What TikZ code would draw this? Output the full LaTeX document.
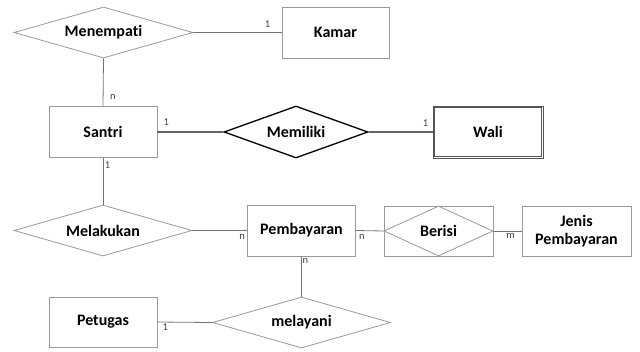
\documentclass[tikz,border=0pt]{standalone}
\usepackage{fontspec}
\setmainfont{Carlito}[Ligatures=NoCommon]
\usepackage{tikz}
\usetikzlibrary{arrows.meta, positioning, shapes.geometric, calc}

\begin{document}
\begin{tikzpicture}[
		x=1pt, y=-1pt,
		every node/.style={font=\fontsize{16}{17.5}\selectfont\bfseries},
		entity/.style={rectangle, draw=gray!80, line width=0.8pt, minimum width=108pt, minimum height=51pt, inner sep=0pt, align=center},
		weakentity/.style={entity, draw=gray!65!black, line width=1pt, minimum width=110pt, minimum height=52pt},
		relation/.style={diamond, draw=gray!80, line width=0.8pt, aspect=3.5, inner sep=0pt, minimum width=179pt, minimum height=51pt},
		strongrel/.style={relation, draw=black, line width=1.3pt, aspect=2.8},
		link/.style={draw=gray!90!black, line width=0.8pt},
		thicklink/.style={draw=gray!80!black, line width=2pt},
		card/.style={font=\fontsize{10.5}{12}\selectfont, text=black!75, inner sep=0pt}
		]
		
		\useasboundingbox (0,0) rectangle (640,351);
		
		% Entities and relations
		\node[relation] (menempati) at (103.5,32.5) {Menempati};
		\node[entity, minimum width=107pt] (kamar) at (335.5,32.5) {Kamar};
		\node[entity] (santri) at (103,132) {Santri};
		\node[strongrel, minimum width=144pt, minimum height=52pt] (memiliki) at (296,132) {Memiliki};
		\node[weakentity] (wali) at (488,132) {Wali};
		\node[weakentity, line width=0.8pt, minimum width=106.5pt, minimum height=48.5pt] (waliinner) at (wali) {};
		\node[relation, minimum width=178pt] (melakukan) at (103,230.5) {Melakukan};
		\node[entity] (pembayaran) at (301.5,230.5) {Pembayaran};
		\node[entity, minimum width=109pt, minimum height=50pt] (berisibox) at (438.5,231) {};
		\node[relation, aspect=2.2, minimum width=109pt, minimum height=50pt] (berisi) at (berisibox) {Berisi};
		\node[entity, minimum width=109pt, minimum height=50pt] (jenis) at (576.5,231) {Jenis\\Pembayaran};
		\node[entity, minimum height=50pt] (petugas) at (103,322) {Petugas};
		\node[relation, minimum width=178pt] (melayani) at (301.5,322.5) {melayani};
		
		% Connectors with cardinalities
		\draw[link] (menempati.east) -- node[card, pos=1, xshift=-14pt, yshift=8.5pt] {1} (kamar.west);
		\draw[link] (menempati.south) -- node[card, pos=1, xshift=10pt, yshift=9.5pt] {n} (santri.north);
		\draw[thicklink] (santri.east) -- node[card, pos=0, xshift=9pt, yshift=10pt] {1} (memiliki.west);
		\draw[thicklink] (memiliki.east) -- node[card, pos=1, xshift=-7pt, yshift=9pt] {1} (wali.west);
		\draw[link] (santri.south) -- node[card, pos=0, xshift=4.5pt, yshift=-7.5pt] {1} (melakukan.north);
		\draw[link] (melakukan.east) -- node[card, pos=1, xshift=-5pt, yshift=-6.5pt] {n} (pembayaran.west);
		\draw[link] (pembayaran.east) -- node[card, pos=0, xshift=6pt, yshift=-6.5pt] {n} (berisi.west);
		\draw[link] (berisi.east) -- node[card, pos=1, xshift=-11pt, yshift=-5pt] {m} (jenis.west);
		\draw[link] (pembayaran.south) -- node[card, pos=0, xshift=4pt, yshift=-5pt] {n} (melayani.north);
		\draw[link] (petugas.east) -- node[card, pos=0, xshift=8pt, yshift=-5pt] {1} (melayani.west);
		
	\end{tikzpicture}
\end{document}
